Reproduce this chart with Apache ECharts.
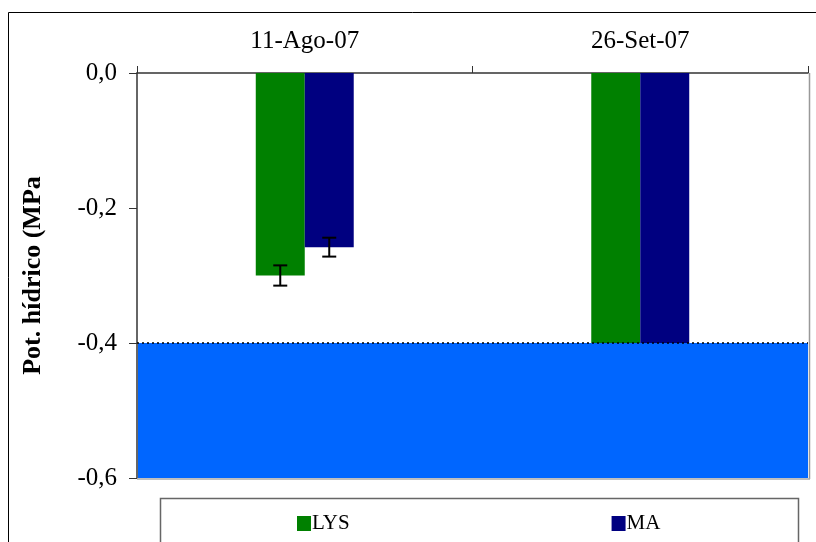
<!DOCTYPE html>
<html><head><meta charset="utf-8">
<script src="https://cdn.jsdelivr.net/npm/echarts@6/dist/echarts.min.js"></script>
<style>html,body{margin:0;padding:0;background:#fff}#c{width:816px;height:542px}</style>
</head><body><div id="c"></div>
<script>
const categories = ['11-Ago-07', '26-Set-07'];
const lysValues = [-0.30, -0.45];
const maValues = [-0.258, -0.45];
const lysErr = [0.015, null];
const maErr = [0.014, null];
const yTicks = [0, -0.2, -0.4, -0.6];
const shadeRange = [-0.4, -0.6];

const chart = echarts.init(document.getElementById('c'));
const BARW = 0.146;
function errSeries(vals, errs, side) {
  const data = [];
  vals.forEach((v, i) => { if (errs[i] != null) data.push([i, v - errs[i], v + errs[i]]); });
  return {
    type: 'custom', z: 4,
    data: data,
    renderItem: function (params, api) {
      const band = api.size([1, 0])[0];
      const off = side * band * BARW / 2;
      const lo = api.coord([api.value(0), api.value(1)]);
      const hi = api.coord([api.value(0), api.value(2)]);
      const x = lo[0] + off, hw = 7;
      const st = { stroke: '#000', lineWidth: 2 };
      return { type: 'group', children: [
        { type: 'line', shape: { x1: x, y1: lo[1], x2: x, y2: hi[1] }, style: st },
        { type: 'line', shape: { x1: x - hw, y1: lo[1], x2: x + hw, y2: lo[1] }, style: st },
        { type: 'line', shape: { x1: x - hw, y1: hi[1], x2: x + hw, y2: hi[1] }, style: st }
      ]};
    }
  };
}
chart.setOption({
  animation: false,
  textStyle: { fontFamily: 'Liberation Serif' },
  graphic: [
    { type: 'rect', shape: { x: 8.5, y: 12.5, width: 820, height: 540 }, style: { fill: 'none', stroke: '#000', lineWidth: 1 }, z: 0 },
    { type: 'rect', shape: { x: 160.5, y: 498.5, width: 638, height: 60 }, style: { fill: 'none', stroke: '#666', lineWidth: 1.5 }, z: 0 },
    { type: 'line', shape: { x1: 809.5, y1: 73, x2: 809.5, y2: 479 }, style: { stroke: '#999', lineWidth: 1.5 }, z: 10 },
    { type: 'line', shape: { x1: 137, y1: 479, x2: 810, y2: 479 }, style: { stroke: '#aaa', lineWidth: 1.5 }, z: 10 }
  ],
  grid: { left: 137, right: 8, top: 73, bottom: 64 },
  legend: {
    left: 292, top: 508, itemWidth: 14, itemHeight: 15, itemGap: 262, icon: 'rect',
    textStyle: { fontFamily: 'Liberation Serif', fontSize: 21, color: '#000', padding: [0, 0, 0, -4] },
    data: ['LYS', 'MA']
  },
  xAxis: {
    type: 'category', position: 'top', data: categories,
    axisLine: { lineStyle: { color: '#333', width: 1.5 } },
    axisTick: { show: true, length: 7, lineStyle: { color: '#333' } },
    axisLabel: { color: '#000', fontSize: 25, margin: 19, fontFamily: 'Liberation Serif' }
  },
  yAxis: {
    type: 'value', min: -0.6, max: 0, interval: 0.2,
    name: 'Pot. hídrico (MPa', nameLocation: 'middle', nameGap: 91, nameRotate: 90,
    nameTextStyle: { fontFamily: 'Liberation Serif', fontWeight: 'bold', fontSize: 26, color: '#000' },
    axisLine: { show: true, lineStyle: { color: '#333', width: 1.5 } },
    axisTick: { show: true, length: 8, lineStyle: { color: '#333' } },
    splitLine: { show: false },
    axisLabel: { color: '#000', fontSize: 25, margin: 20, fontFamily: 'Liberation Serif',
      formatter: v => v.toFixed(1).replace('.', ',') }
  },
  series: [
    { name: 'LYS', type: 'bar', data: lysValues, barWidth: (BARW * 100) + '%', barGap: '0%', itemStyle: { color: '#008000' }, z: 2 },
    { name: 'MA', type: 'bar', data: maValues, barWidth: (BARW * 100) + '%', barGap: '0%', itemStyle: { color: '#000080' }, z: 2 },
    errSeries(lysValues, lysErr, -1),
    errSeries(maValues, maErr, 1),
    {
      type: 'custom', z: 8, silent: true,
      data: [[shadeRange[0], shadeRange[1]]],
      renderItem: function (params, api) {
        const cs = params.coordSys;
        const top = api.coord([0, api.value(0)])[1];
        const bot = api.coord([0, api.value(1)])[1];
        return { type: 'group', children: [
          { type: 'rect', shape: { x: cs.x + 1, y: top, width: cs.width - 1, height: bot - top }, style: { fill: '#0066FF' } },
          { type: 'line', shape: { x1: cs.x, y1: top, x2: cs.x + cs.width, y2: top }, style: { stroke: '#000', lineWidth: 1.5, lineDash: [2, 3] } }
        ]};
      }
    }
  ]
});
</script></body></html>
